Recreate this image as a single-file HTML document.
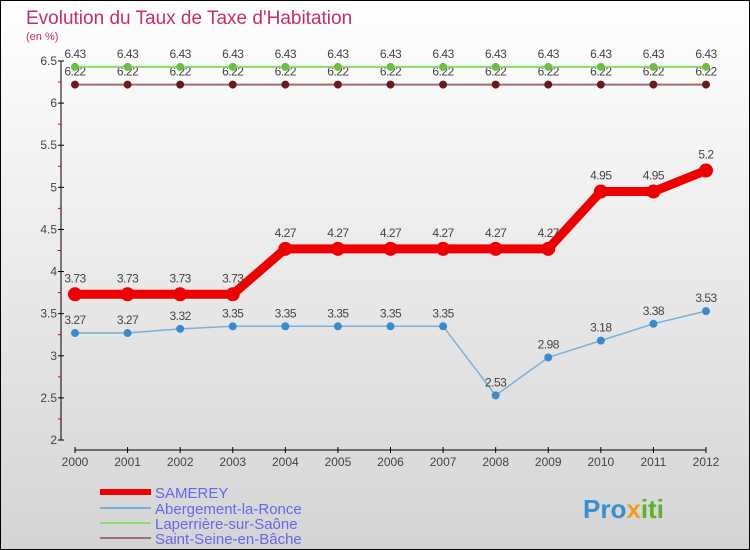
<!DOCTYPE html>
<html><head><meta charset="utf-8"><style>
body{margin:0}
svg{display:block;font-family:"Liberation Sans",sans-serif}
</style></head><body>
<svg id="c" width="750" height="550">
<defs><linearGradient id="bg" x1="0" y1="0" x2="0" y2="1"><stop offset="0" stop-color="#ffffff"/><stop offset="1" stop-color="#d4d4d4"/></linearGradient></defs>
<rect x="0.5" y="0.5" width="749" height="549" fill="url(#bg)" stroke="#000"/>
<text x="26" y="24" font-size="19" fill="#c8305c">Evolution du Taux de Taxe d'Habitation</text>
<text x="26" y="40" font-size="11" fill="#c8305c">(en %)</text>
<g id="axes"></g><g id="series"></g>
<g>
<rect x="100" y="489" width="51" height="6" fill="#ee0000"/>
<text x="155" y="498" font-size="15" fill="#6666ee">SAMEREY</text>
<rect x="100" y="507" width="51" height="2" fill="#7ab0d8"/>
<text x="155" y="514" font-size="15" fill="#6666ee">Abergement-la-Ronce</text>
<rect x="100" y="522" width="51" height="2" fill="#8fd86a"/>
<text x="155" y="529" font-size="15" fill="#6666ee">Laperrière-sur-Saône</text>
<rect x="100" y="537" width="51" height="2" fill="#a07070"/>
<text x="155" y="544" font-size="15" fill="#6666ee">Saint-Seine-en-Bâche</text>
</g>
<text x="583" y="518" font-size="26" font-weight="bold" fill="#3a8fd0">Pro<tspan fill="#f0a020">x</tspan><tspan fill="#60b030">iti</tspan></text>
</svg>
<script>
const years=[2000,2001,2002,2003,2004,2005,2006,2007,2008,2009,2010,2011,2012];
const samerey=[3.73,3.73,3.73,3.73,4.27,4.27,4.27,4.27,4.27,4.27,4.95,4.95,5.2];
const abergement=[3.27,3.27,3.32,3.35,3.35,3.35,3.35,3.35,2.53,2.98,3.18,3.38,3.53];
const laperriere=[6.43,6.43,6.43,6.43,6.43,6.43,6.43,6.43,6.43,6.43,6.43,6.43,6.43];
const saintSeine=[6.22,6.22,6.22,6.22,6.22,6.22,6.22,6.22,6.22,6.22,6.22,6.22,6.22];
const yTicks=[2,2.5,3,3.5,4,4.5,5,5.5,6,6.5];
const NS="http://www.w3.org/2000/svg";
const X=i=>75+i*(706-75)/(years.length-1);
const Y=v=>440-(v-2)*(440-61)/4.5;
function mk(t,a,p){const e=document.createElementNS(NS,t);for(const k in a)e.setAttribute(k,a[k]);p.appendChild(e);return e;}
const ax=document.getElementById('axes'),sg=document.getElementById('series');
const yl=mk('line',{x1:61,y1:61,x2:61,y2:440,stroke:'#000'},ax);


yTicks.forEach(v=>{mk('line',{x1:58,x2:64,y1:Y(v),y2:Y(v),stroke:'#000'},ax);
const t=mk('text',{x:57,y:Y(v)+4,'font-size':12,fill:'#444','text-anchor':'end'},ax);t.textContent=String(v);


if(v<6.5)mk('line',{x1:58,x2:61,y1:Y(v+0.25),y2:Y(v+0.25),stroke:'#d00'},ax);});
const xl=mk('line',{x1:75,y1:450,x2:706,y2:450,stroke:'#000'},ax);


years.forEach((y,i)=>{mk('line',{x1:X(i),x2:X(i),y1:447,y2:453,stroke:'#000'},ax);
const t=mk('text',{x:X(i),y:466,'font-size':12,fill:'#444','text-anchor':'middle'},ax);t.textContent=y;

});
function series(d,name,col,w,r,dot,dy){
const g=mk('g',{},sg);


mk('polyline',{points:d.map((v,i)=>X(i)+','+Y(v)).join(' '),fill:'none',stroke:col,'stroke-width':w,'stroke-linejoin':'round'},g);
d.forEach((v,i)=>{const c=mk('circle',{cx:X(i),cy:Y(v),r:r,fill:dot},g);


const t=mk('text',{x:X(i),y:Y(v)+dy,'font-size':12,fill:'#444','text-anchor':'middle','letter-spacing':'-0.5'},g);t.textContent=String(v);

});}
series(saintSeine,'saint-seine','#a07070',2,4,'#6a1a1a',-9);
series(laperriere,'laperriere','#8fd86a',2,4,'#6cc040',-9);
series(abergement,'abergement','#7ab0d8',1.5,4,'#3a8ad0',-9);
series(samerey,'samerey','#ee0000',9,7,'#ee0000',-12);
</script>
</body></html>
